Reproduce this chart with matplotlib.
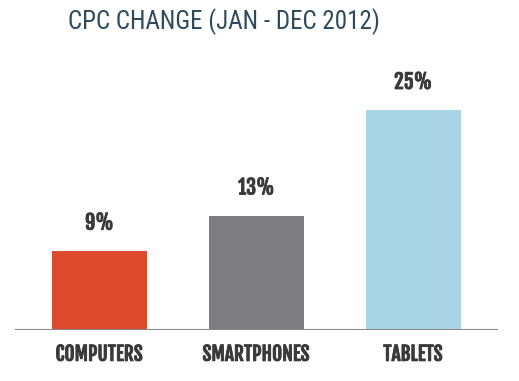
import matplotlib.pyplot as plt
import matplotlib.patheffects as pe

# ------------------------------
# Data
# ------------------------------
categories = ["COMPUTERS", "SMARTPHONES", "TABLETS"]
cpc_change = [9, 13, 25]
bar_colors = ["#DE4A2E", "#7E7E82", "#AAD5E6"]

LABEL_FONT = ["Fjalla One", "DejaVu Sans"]
TITLE_FONT = ["Roboto Condensed", "DejaVu Sans"]
bold_fx = [pe.withStroke(linewidth=0.6, foreground="#3a3a3a")]

# ------------------------------
# Figure
# ------------------------------
fig = plt.figure(figsize=(5.19, 3.81), dpi=100)
ax = fig.add_axes([15 / 519, 51 / 381, 483 / 519, 270 / 381])

x = list(range(len(categories)))
ax.bar(x, cpc_change, width=0.605, color=bar_colors, zorder=2)

for xi, v in zip(x, cpc_change):
    ax.text(xi, v + 3.2, f"{v}%", ha="center", va="center",
            fontsize=14.5, color="#3a3a3a", family=LABEL_FONT,
            path_effects=bold_fx)

ax.set_xlim(-0.538, 2.541)
ax.set_ylim(0, 30.7)
ax.axhline(0, color="#8a8a8a", lw=2.2, zorder=3)

for s in ax.spines.values():
    s.set_visible(False)
ax.set_yticks([])
ax.set_xticks(x)
ax.set_xticklabels(categories, fontsize=14, color="#3a3a3a", family=LABEL_FONT)
for lbl in ax.get_xticklabels():
    lbl.set_path_effects(bold_fx)
ax.tick_params(axis="x", length=0, pad=10)

fig.text(68 / 519, 1 - 22 / 381, "CPC CHANGE (JAN - DEC 2012)", ha="left",
         va="center", fontsize=18, color="#2F4A5C", family=TITLE_FONT)

fig.savefig("out.png", dpi=100)
